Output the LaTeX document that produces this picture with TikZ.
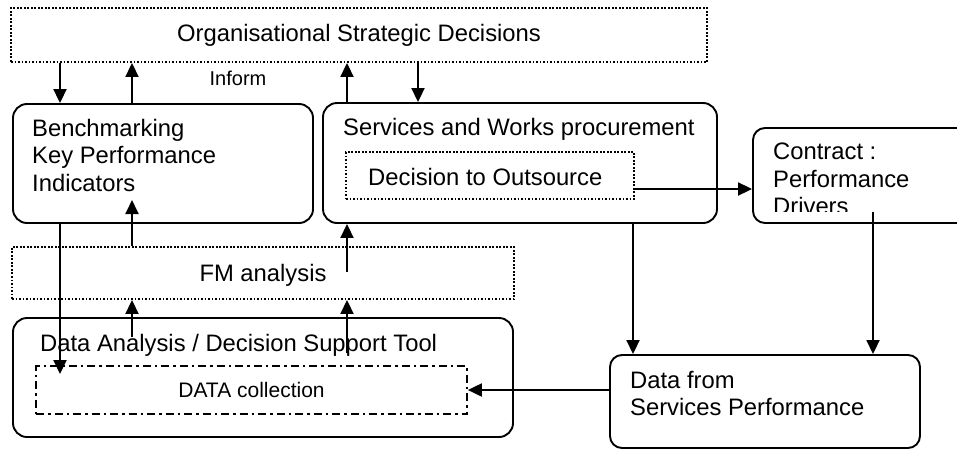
\documentclass[tikz,border=0pt]{standalone}
\usepackage{fontspec}
\setmainfont{Liberation Sans}
\usetikzlibrary{arrows.meta}
\begin{document}
\begin{tikzpicture}[x=1pt,y=-1pt,
 box/.style={draw,line width=1.9pt,rounded corners=14pt,inner sep=0pt},
 dotbox/.style={draw,line width=1.9pt,dash pattern=on 1.9pt off 1.6pt,inner sep=0pt},
 dashdotbox/.style={draw,line width=1.7pt,dash pattern=on 8pt off 4pt on 2.5pt off 4pt,inner sep=0pt},
 txt/.style={font=\fontsize{23.8}{27.5}\selectfont,inner sep=0pt,align=left},
 smalltxt/.style={font=\fontsize{20}{24}\selectfont,inner sep=0pt},
 midtxt/.style={font=\fontsize{21}{25}\selectfont,inner sep=0pt},
 arr/.style={line width=1.9pt,-{Triangle[length=14pt,width=13pt]}}]
\useasboundingbox (0,0) rectangle (957,450);

% boxes
\node[dotbox,minimum width=696pt,minimum height=54pt] (osd) at (359,35) {};
\node[box,minimum width=300pt,minimum height=119pt] (bench) at (163,163.5) {};
\node[box,minimum width=394pt,minimum height=120pt] (swp) at (520,163) {};
\node[dotbox,minimum width=288pt,minimum height=47pt] (dto) at (490,175.5) {};
\node[box,rounded corners=12pt,minimum width=257pt,minimum height=95pt] (contract) at (881.5,175.5) {};
\node[dotbox,minimum width=502pt,minimum height=52pt] (fm) at (263,273) {};
\node[box,minimum width=500pt,minimum height=119pt] (dast) at (263,377.5) {};
\node[dashdotbox,minimum width=431pt,minimum height=48pt] (datac) at (251.5,390) {};
\node[box,rounded corners=12pt,minimum width=310pt,minimum height=93pt] (dfsp) at (765,401.5) {};

% texts
\node[txt,anchor=base] (osdt) at (359,41.5) {Organisational Strategic Decisions};
\node[smalltxt,anchor=base] (inform) at (238,85) {Inform};
\node[txt,anchor=north west] (bencht) at (32,119) {Benchmarking\\Key Performance\\Indicators};
\node[txt,anchor=base west] (swpt) at (343,135.5) {Services and Works procurement};
\node[txt,anchor=base west] (dtot) at (368,185.5) {Decision to Outsource};
\begin{scope}
\clip (745,100) rectangle (957,211);
\node[txt,anchor=north west] (contractt) at (773,143) {Contract :\\Performance\\Drivers};
\end{scope}
\node[txt,anchor=base] (fmt) at (263,281.5) {FM analysis};
\node[txt,anchor=base west] (dastt) at (40,351.5) {Data Analysis / Decision Support Tool};
\node[midtxt,anchor=base] (datact) at (251.5,397.5) {DATA collection};
\node[txt,anchor=north west] (dfspt) at (630,371) {Data from\\Services Performance};

% reference coordinates
\coordinate (xa) at (60,0);
\coordinate (xb) at (132,0);
\coordinate (xc) at (347,0);
\coordinate (xd) at (418,0);
\coordinate (xe) at (633,0);
\coordinate (xf) at (873,0);
\coordinate (ya) at (0,189);
\coordinate (cf) at (873,212);
\coordinate (ce) at (60,374);
\coordinate (cb) at (132,200);
\coordinate (cc) at (347,272);
\coordinate (cd) at (132,337);
\coordinate (cg) at (347,353);

% connectors
\draw[arr] (osd.south -| xa) -- (bench.north -| xa);
\draw[arr] (bench.north -| xb) -- (osd.south -| xb);
\draw[arr] (swp.north -| xc) -- (osd.south -| xc);
\draw[arr] (osd.south -| xd) -- (swp.north -| xd);
\draw[arr] (dto.east |- ya) -- (contract.west |- ya);
\draw[arr] (swp.south -| xe) -- (dfsp.north -| xe);
\draw[arr] (cf) -- (dfsp.north -| xf);
\draw[arr] (dfsp.west |- datac.east) -- (datac.east);
\draw[arr] (bench.south -| xa) -- (ce);
\draw[arr] (fm.north -| xb) -- (cb);
\draw[arr] (cc) -- (swp.south -| xc);
\draw[arr] (cd) -- (fm.south -| xb);
\draw[arr] (cg) -- (fm.south -| xc);
\end{tikzpicture}
\end{document}
